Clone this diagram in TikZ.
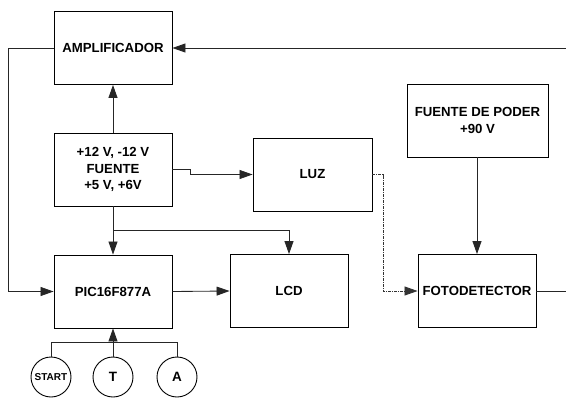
\documentclass[tikz,border=0pt]{standalone}
\usepackage{fontspec}
\setmainfont{Liberation Sans}
\usetikzlibrary{arrows.meta}
\begin{document}
\begin{tikzpicture}[x=1pt,y=-1pt,
  blk/.style={draw, line width=0.9pt, minimum width=118pt, minimum height=73pt, inner sep=0pt,
    font=\bfseries\fontsize{13.2}{16.5}\selectfont, align=center},
  circ/.style={draw, circle, line width=0.9pt, minimum size=40pt, inner sep=0pt,
    font=\bfseries\fontsize{13.5}{15}\selectfont},
  wire/.style={line width=0.85pt, draw=black!85},
  tip/.style={-{Triangle[length=13pt,width=9pt]}},
  arr/.style={wire, tip},
  dotw/.style={line width=0.8pt, draw=black!80, dash pattern=on 3pt off 1pt on 1pt off 1pt}]
\useasboundingbox (0,0) rectangle (566,399);
\node[blk] (amp) at (113,48) {AMPLIFICADOR};
\node[blk] (pow) at (113,169.5) {+12 V, -12 V\\FUENTE\\+5 V, +6V};
\node[blk, minimum width=119pt] (luz) at (312.5,174.5) {LUZ};
\node[blk, minimum width=141pt] (fp) at (477.5,120.5) {FUENTE DE PODER\\+90 V};
\node[blk] (pic) at (113,291.5) {PIC16F877A};
\node[blk] (lcd) at (289,291) {LCD};
\node[blk] (foto) at (477,291) {FOTODETECTOR};
\node[circ, font=\bfseries\fontsize{10}{12}\selectfont] (st) at (51,377) {START};
\node[circ] (t) at (113,377) {T};
\node[circ] (a) at (177,377) {A};
\coordinate (rin) at (566,48);
\coordinate (lft) at (8,48);
\coordinate (k1) at (190,169.5);
\coordinate (k2) at (190,174.5);
\coordinate (b1) at (113,230);
\coordinate (d1) at (383,174.5);
\coordinate (rout) at (566,291);
\coordinate (c1) at (51,342);
\coordinate (c2) at (177,342);
\draw[arr] (rin) -- (amp.east);
\draw[arr] (amp.west) -- (lft) |- (pic.west);
\draw[arr] (pow.north) -- (amp.south);
\draw[arr] (pow.east) -- (k1) -- (k2) -- (luz.west);
\draw[arr] (pow.south) -- (pic.north);
\draw[arr] (b1) -| (lcd.north);
\draw[arr] (pic.east) -- (lcd.west);
\draw[dotw, tip] (luz.east) -- (d1) |- (foto.west);
\draw[arr] (fp.south -| foto.north) -- (foto.north);
\draw[wire] (foto.east) -- (rout);
\draw[arr] (t.north) -- (pic.south);
\draw[wire] (st.north) -- (c1) -- (c2) -- (a.north);
\end{tikzpicture}
\end{document}
